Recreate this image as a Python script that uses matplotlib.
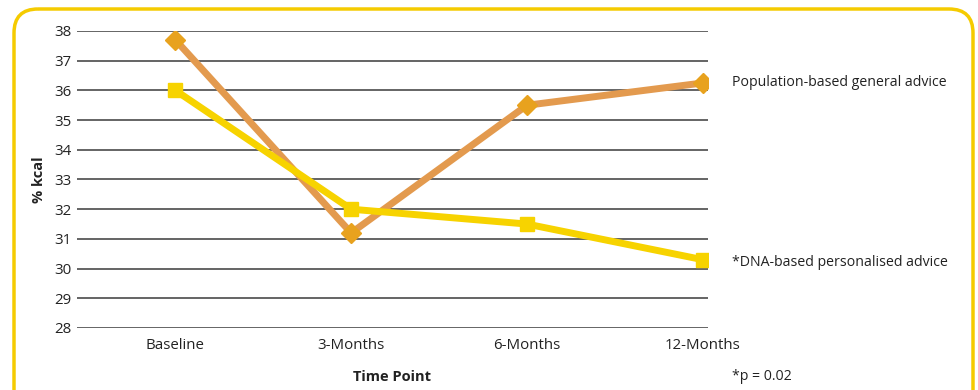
import matplotlib.pyplot as plt
from matplotlib.patches import FancyBboxPatch

plt.rcParams['font.family'] = ['Open Sans', 'DejaVu Sans']

# dietary fat intake (% kcal) at each follow-up point
time_points = ["Baseline", "3-Months", "6-Months", "12-Months"]
population_advice = [37.7, 31.2, 35.5, 36.25]
dna_advice = [36.0, 32.0, 31.5, 30.3]
series_labels = ["Population-based general advice", "*DNA-based personalised advice"]
y_ticks = list(range(28, 39))

W, H = 979, 390
fig = plt.figure(figsize=(W / 100, H / 100), dpi=100)

# background layer in pixel units for the rounded yellow frame
bg = fig.add_axes([0, 0, 1, 1])
bg.set_xlim(0, W)
bg.set_ylim(H, 0)
bg.axis("off")
frame = FancyBboxPatch((14, 9), 973 - 14, 460,
                       boxstyle="round,pad=0,rounding_size=24",
                       fill=False, edgecolor="#F5CB00", linewidth=2.5,
                       clip_on=False)
bg.add_patch(frame)

ax = fig.add_axes([77 / W, 1 - 328 / H, (708 - 77) / W, (328 - 31) / H])
x = list(range(len(time_points)))

for yv in y_ticks:
    ax.axhline(yv, color="#4a4a4a", linewidth=1.2, zorder=1)

ax.plot(x, population_advice, color="#E39A4E", linewidth=5, zorder=3,
        marker="D", markersize=10, markerfacecolor="#E8A21E",
        markeredgecolor="#E8A21E")
ax.plot(x, dna_advice, color="#F7D300", linewidth=5, zorder=3,
        marker="s", markersize=10, markerfacecolor="#F7D300",
        markeredgecolor="#F7D300")

ax.set_xlim(-0.56, 3.03)
ax.set_ylim(28, 38)
ax.set_yticks(y_ticks)
ax.set_xticks(x)
ax.set_xticklabels(time_points)
ax.tick_params(axis="both", length=0, labelsize=10.8, labelcolor="#222222")
ax.tick_params(axis="y", pad=4)
ax.tick_params(axis="x", pad=7)
for s in ax.spines.values():
    s.set_visible(False)
ax.set_facecolor("none")

ax.set_ylabel("% kcal", fontsize=10.5, fontweight="bold", color="#222222", labelpad=6)
fig.text(392 / W, 1 - 377 / H, "Time Point", ha="center", va="center",
         fontsize=10.5, fontweight="bold", color="#222222")

ax.annotate(series_labels[0], xy=(x[-1], population_advice[-1]), xytext=(21, 0),
            textcoords="offset points", va="center", ha="left",
            fontsize=10.2, color="#222222", annotation_clip=False)
ax.annotate(series_labels[1], xy=(x[-1], dna_advice[-1]), xytext=(21, -2),
            textcoords="offset points", va="center", ha="left",
            fontsize=10.2, color="#222222", annotation_clip=False)
fig.text(732 / W, 1 - 377 / H, "*p = 0.02", ha="left", va="center",
         fontsize=10.2, color="#222222")

fig.savefig("out.png", dpi=100)
